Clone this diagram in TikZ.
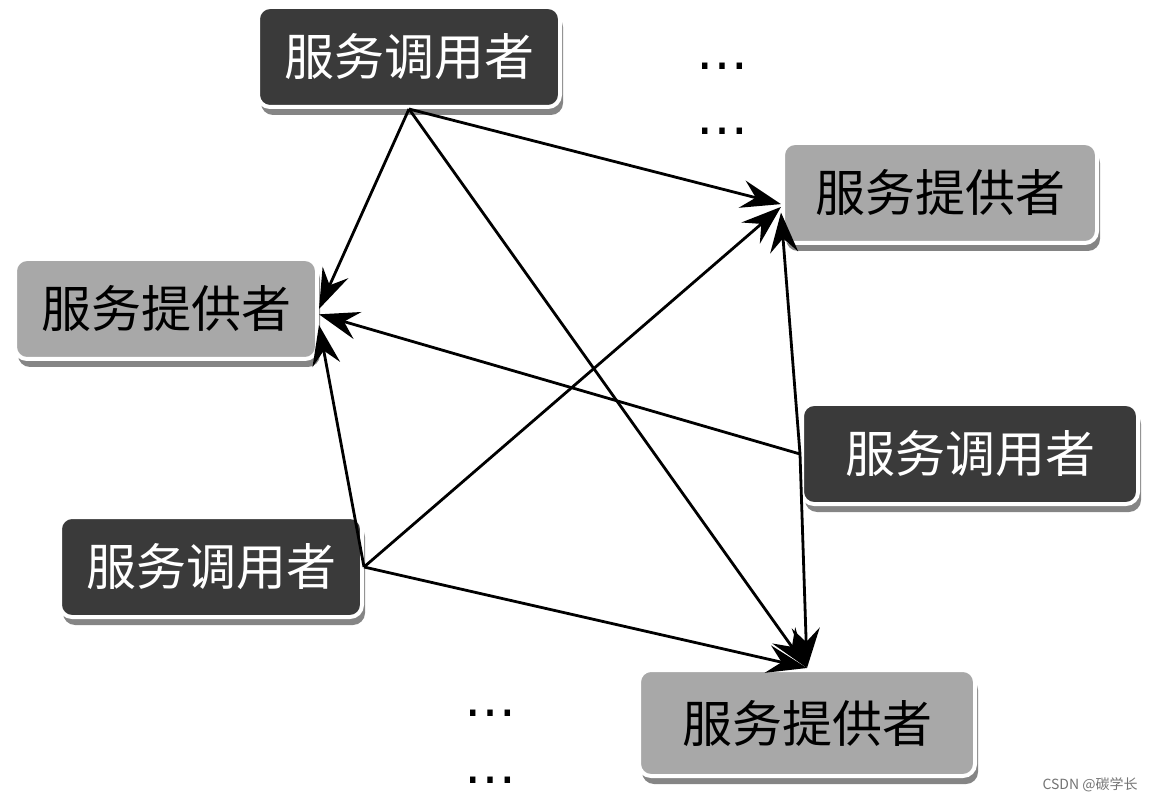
\documentclass[tikz,border=0pt]{standalone}
\usepackage{fontspec}
\newfontfamily\cjk{Noto Sans CJK SC}
\newfontfamily\symfont{DejaVu Sans}
\usepackage{tikz}
\usetikzlibrary{arrows.meta}
\usetikzlibrary{shadows}
\tikzset{>={Stealth[length=20pt,width=14pt,inset=7pt]}}
\definecolor{callergray}{RGB}{58,58,58}
\definecolor{providergray}{RGB}{168,168,168}
\tikzset{box/.style={rounded corners=6pt, draw=white, line width=2pt,
    minimum width=151pt, minimum height=50pt, inner sep=0pt,
    font=\cjk\fontsize{25}{30}\selectfont,
    drop shadow={shadow xshift=1.5pt, shadow yshift=-4pt, fill=black!80, opacity=0.6}}}
\tikzset{caller/.style={box, fill=callergray, text=white}}
\tikzset{provider/.style={box, fill=providergray, text=black}}
\tikzset{link/.style={->, line width=1.4pt}}
\tikzset{dots/.style={inner sep=0pt, anchor=base, font=\symfont\fontsize{26}{30}\selectfont}}

\begin{document}
\begin{tikzpicture}[x=0.5pt,y=-0.5pt]
\useasboundingbox (0,0) rectangle (1150,801);

\node[caller] (callerA) at (409,57){服务调用者};
\node[provider, minimum width=157pt] (providerA) at (940,193){服务提供者};
\node[provider] (providerB) at (166,309){服务提供者};
\node[caller, minimum width=168pt] (callerB) at (970,454){服务调用者};
\node[caller] (callerC) at (211,567){服务调用者};
\node[provider, minimum width=168pt, minimum height=53pt] (providerC) at (807,723){服务提供者};

\node[dots] (dotsA) at (722,70){…};
\node[dots] (dotsB) at (722,135){…};
\node[dots] (dotsC) at (490,716){…};
\node[dots] (dotsD) at (490,783){…};

% caller at the top
\draw[link] (callerA.south) -- (providerB.east);
\draw[link] (callerA.south) -- (providerA.184);
\draw[link] (callerA.south) -- (providerC.north);

% caller on the right
\draw[link] (callerB.west) -- (providerB.358);
\draw[link] (callerB.west) -- (providerA.187);
\draw[link] (callerB.west) -- (providerC.north);

% caller at the bottom left
\draw[link] (callerC.east) -- (providerB.354);
\draw[link] (callerC.east) -- (providerA.185);
\draw[link] (callerC.east) -- (providerC.north);

\node[text=black!55, font=\cjk\fontsize{7}{8}\selectfont] (mark) at (1090,785){CSDN @碳学长};
\end{tikzpicture}
\end{document}
